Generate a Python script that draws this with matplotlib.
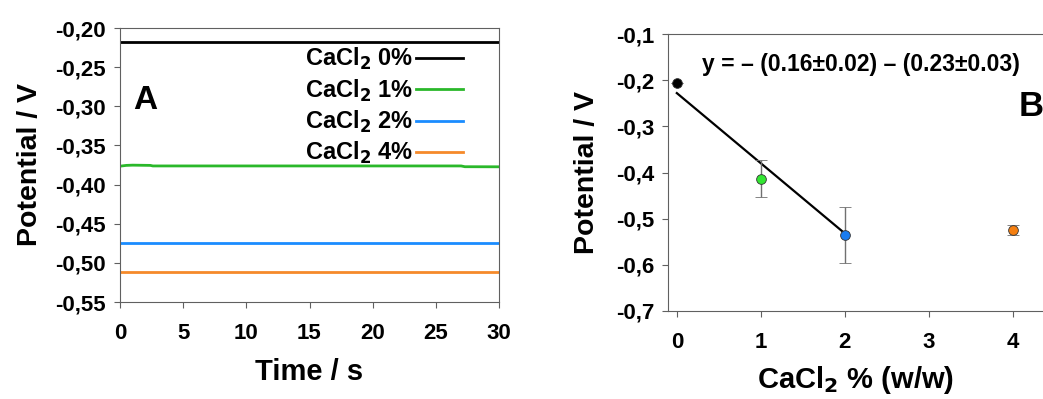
import matplotlib.pyplot as plt
import numpy as np

plt.rcParams['font.family'] = ['Liberation Sans', 'DejaVu Sans']
plt.rcParams['font.weight'] = 'bold'
plt.rcParams['mathtext.default'] = 'bf'

# panel A: potential vs time
t_flat = np.array([0, 30])
e_0 = np.array([-0.218, -0.218])
t_1 = np.array([0, 0.5, 1.0, 2.4, 2.6, 27.0, 27.3, 27.6, 30])
e_1 = np.array([-0.3765, -0.3755, -0.3752, -0.3755, -0.3762, -0.3762, -0.3772, -0.3772, -0.3773])
e_2 = np.array([-0.4745, -0.4745])
e_4 = np.array([-0.5115, -0.5115])
labels_a = [r'CaCl$_2$ 0%', r'CaCl$_2$ 1%', r'CaCl$_2$ 2%', r'CaCl$_2$ 4%']
yticks_a = [-0.20, -0.25, -0.30, -0.35, -0.40, -0.45, -0.50, -0.55]
ytick_labels_a = ['-0,20', '-0,25', '-0,30', '-0,35', '-0,40', '-0,45', '-0,50', '-0,55']
xticks_a = [0, 5, 10, 15, 20, 25, 30]

# panel B: mean potential vs CaCl2 content
conc = np.array([0, 1, 2, 4])
pot = np.array([-0.207, -0.414, -0.535, -0.524])
err = np.array([0.0, 0.04, 0.06, 0.011])
fit_x = np.array([0, 2])
fit_a, fit_b = -0.228, -0.152
yticks_b = [-0.1, -0.2, -0.3, -0.4, -0.5, -0.6, -0.7]
ytick_labels_b = ['-0,1', '-0,2', '-0,3', '-0,4', '-0,5', '-0,6', '-0,7']

colors = ['black', '#2ab82a', '#1a8cff', '#f58a2a']
pt_colors = ['black', '#33e633', '#1a7cf0', '#f57f10']

fig = plt.figure(figsize=(10.43, 3.99), dpi=100)
spine_c = '#606060'

# ---- A ----
ax1 = fig.add_axes([120/1043, 97/399, 379/1043, 274/399])
ax1.plot(t_flat, e_0, color=colors[0], lw=2, label=labels_a[0])
ax1.plot(t_1, e_1, color=colors[1], lw=2, label=labels_a[1])
ax1.plot(t_flat, e_2, color=colors[2], lw=2, label=labels_a[2])
ax1.plot(t_flat, e_4, color=colors[3], lw=2, label=labels_a[3])
ax1.set_xlim(0, 30)
ax1.set_ylim(-0.55, -0.20)
ax1.set_yticks(yticks_a)
ax1.set_yticklabels(ytick_labels_a)
ax1.set_xticks(xticks_a)
ax1.tick_params(labelsize=16, direction='out', length=4, color=spine_c, pad=6)
ax1.tick_params(axis='x', pad=11)
ax1.set_xlabel('Time / s', fontsize=21, fontweight='bold', labelpad=10)
ax1.set_ylabel('Potential / V', fontsize=20.5, fontweight='bold', labelpad=9)
for s in ax1.spines.values():
    s.set_color(spine_c)
ax1.text(0.035, 0.705, 'A', transform=ax1.transAxes, fontsize=24, fontweight='bold')
ax1.legend(loc='upper right', bbox_to_anchor=(463/1043, 353/399),
           bbox_transform=fig.transFigure, frameon=False, markerfirst=False,
           fontsize=17, handlelength=2.0, handletextpad=0.1, labelspacing=0.22,
           borderpad=0, borderaxespad=0)

# ---- B ----
ax2 = fig.add_axes([668/1043, 88/399, 376/1043, 277/399])
ax2.plot(fit_x, fit_a + fit_b * fit_x, color='black', lw=1.6)
for x, y, e, c in zip(conc, pot, err, pt_colors):
    ax2.errorbar(x, y, yerr=e, fmt='o', color=c, ms=7, mec='#333333', mew=0.6,
                 ecolor='#707070', elinewidth=1, capsize=4, capthick=1)
ax2.set_xlim(-0.105, 4.37)
ax2.set_ylim(-0.7, -0.1)
ax2.set_yticks(yticks_b)
ax2.set_yticklabels(ytick_labels_b)
ax2.set_xticks([0, 1, 2, 3, 4])
ax2.tick_params(labelsize=16, direction='out', length=4, color=spine_c, pad=6)
ax2.tick_params(axis='x', pad=11)
ax2.set_xlabel(r'CaCl$_2$ % (w/w)', fontsize=21, fontweight='bold', labelpad=8)
ax2.set_ylabel('Potential / V', fontsize=20.5, fontweight='bold', labelpad=11)
for s in ax2.spines.values():
    s.set_color(spine_c)
ax2.text(0.513, 0.891, 'y = \u2013 (0.16\u00b10.02) \u2013 (0.23\u00b10.03)', transform=ax2.transAxes,
         fontsize=16.5, fontweight='bold', ha='center', va='center')
ax2.text(1.0, 0.74, 'B', transform=ax2.transAxes, fontsize=25, fontweight='bold',
         ha='right', va='center')

fig.savefig('out.png', dpi=100)
